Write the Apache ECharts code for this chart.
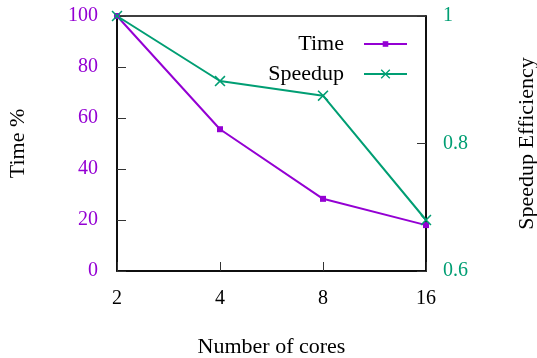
<!DOCTYPE html>
<html>
<head>
<meta charset="utf-8">
<script src="https://cdn.jsdelivr.net/npm/echarts@6/dist/echarts.min.js"></script>
<style>
	html, body { margin: 0; padding: 0; background: #fff; }
	#main { width: 537px; height: 358px; }
</style>
</head>
<body>
<div id="main"></div>
<script>
var cores = ['2', '4', '8', '16'];
var timePct = [100, 55.6, 28.3, 18.0];
var speedupEff = [1.0, 0.898, 0.875, 0.68];

var purple = '#9400d3';
var green = '#009e73';
var font = 'Liberation Serif';
// cross marker, drawn as a filled outline
var crossPath = 'path://M0,1L1,0L5,4L9,0L10,1L6,5L10,9L9,10L5,6L1,10L0,9L4,5Z';

var chart = echarts.init(document.getElementById('main'));
var option = {
	animation: false,
	textStyle: { fontFamily: font },
	grid: {
		left: 117, right: 111, top: 16, bottom: 87,
		outerBoundsMode: 'none',
		containLabel: false,
		show: true, borderColor: '#000', borderWidth: 1.5
	},
	legend: [
		{
			data: ['Time'], right: 129, top: 33, padding: 0,
			align: 'right', itemWidth: 43, itemHeight: 7,
			textStyle: { fontFamily: font, fontSize: 22, color: '#000', padding: [0, 15, 0, 0] }
		},
		{
			data: ['Speedup'], right: 129, top: 63, padding: 0,
			align: 'right', itemWidth: 43, itemHeight: 12,
			textStyle: { fontFamily: font, fontSize: 22, color: '#000', padding: [0, 15, 0, 0] }
		}
	],
	xAxis: {
		type: 'category',
		data: cores,
		boundaryGap: false,
		name: 'Number of cores',
		nameLocation: 'middle',
		nameGap: 65,
		nameTextStyle: { fontFamily: font, fontSize: 22, color: '#000' },
		axisLine: { lineStyle: { color: '#000', width: 1.5 } },
		axisTick: { inside: true, length: 9, lineStyle: { color: '#333' } },
		axisLabel: { fontFamily: font, fontSize: 20, color: '#000', margin: 18 },
		splitLine: { show: false }
	},
	yAxis: [
		{
			type: 'value', min: 0, max: 100, interval: 20,
			name: 'Time %',
			nameLocation: 'middle',
			nameGap: 88,
			nameTextStyle: { fontFamily: font, fontSize: 22, color: '#000' },
			axisLine: { show: true, lineStyle: { color: '#000', width: 1.5 } },
			axisTick: { show: true, inside: true, length: 9, lineStyle: { color: '#333' } },
			axisLabel: { fontFamily: font, fontSize: 20, color: purple, margin: 19 },
			splitLine: { show: false }
		},
		{
			type: 'value', min: 0.6, max: 1, interval: 0.2,
			position: 'right',
			name: 'Speedup Efficiency',
			nameLocation: 'middle',
			nameGap: 90,
			nameTextStyle: { fontFamily: font, fontSize: 22, color: '#000' },
			axisLine: { show: true, lineStyle: { color: '#000', width: 1.5 } },
			axisTick: { show: true, inside: true, length: 9, lineStyle: { color: '#333' } },
			axisLabel: { fontFamily: font, fontSize: 20, color: green, margin: 17 },
			splitLine: { show: false }
		}
	],
	series: [
		{
			name: 'Time',
			type: 'line',
			yAxisIndex: 0,
			data: timePct,
			symbol: 'rect',
			symbolSize: 6,
			itemStyle: { color: purple },
			lineStyle: { color: purple, width: 2 }
		},
		{
			name: 'Speedup',
			type: 'line',
			yAxisIndex: 1,
			data: speedupEff,
			symbol: crossPath,
			symbolSize: 11,
			itemStyle: { color: green },
			lineStyle: { color: green, width: 2 }
		}
	]
};
chart.setOption(option);
</script>
</body>
</html>
